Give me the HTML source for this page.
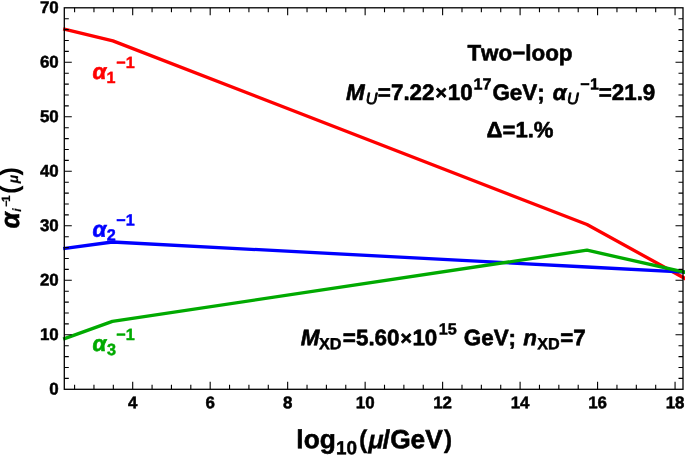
<!DOCTYPE html>
<html><head><meta charset="utf-8"><title>Two-loop gauge coupling running</title>
<style>html,body{margin:0;padding:0;background:#fff;}svg{display:block;}text{font-family:"Liberation Sans",Arial,Helvetica,sans-serif;stroke-linejoin:round;font-kerning:none;text-rendering:geometricPrecision;}.b{font-weight:bold;}.i{font-style:italic;}.bi{font-weight:bold;font-style:italic;}</style>
</head><body>
<svg width="685" height="455" viewBox="0 0 685 455">
<rect x="0" y="0" width="685" height="455" fill="#ffffff"/>
<polyline points="63.20,28.95 112.90,40.90 587.00,224.50 686.50,279.33" fill="none" stroke="#ff0000" stroke-width="3.3" stroke-linejoin="round" stroke-linecap="butt"/>
<polyline points="63.20,248.60 112.40,242.00 587.00,267.00 686.50,272.18" fill="none" stroke="#0000ff" stroke-width="3.3" stroke-linejoin="round" stroke-linecap="butt"/>
<polyline points="63.20,339.10 112.40,321.40 587.00,250.20 686.50,272.59" fill="none" stroke="#00aa00" stroke-width="3.3" stroke-linejoin="round" stroke-linecap="butt"/>
<path d="M74.59 389.30v-4.50M74.59 7.80v4.50M93.96 389.30v-4.50M93.96 7.80v4.50M113.33 389.30v-4.50M113.33 7.80v4.50M132.70 389.30v-7.50M132.70 7.80v7.50M152.07 389.30v-4.50M152.07 7.80v4.50M171.44 389.30v-4.50M171.44 7.80v4.50M190.81 389.30v-4.50M190.81 7.80v4.50M210.18 389.30v-7.50M210.18 7.80v7.50M229.55 389.30v-4.50M229.55 7.80v4.50M248.92 389.30v-4.50M248.92 7.80v4.50M268.29 389.30v-4.50M268.29 7.80v4.50M287.66 389.30v-7.50M287.66 7.80v7.50M307.03 389.30v-4.50M307.03 7.80v4.50M326.40 389.30v-4.50M326.40 7.80v4.50M345.77 389.30v-4.50M345.77 7.80v4.50M365.14 389.30v-7.50M365.14 7.80v7.50M384.51 389.30v-4.50M384.51 7.80v4.50M403.88 389.30v-4.50M403.88 7.80v4.50M423.25 389.30v-4.50M423.25 7.80v4.50M442.62 389.30v-7.50M442.62 7.80v7.50M461.99 389.30v-4.50M461.99 7.80v4.50M481.36 389.30v-4.50M481.36 7.80v4.50M500.73 389.30v-4.50M500.73 7.80v4.50M520.10 389.30v-7.50M520.10 7.80v7.50M539.47 389.30v-4.50M539.47 7.80v4.50M558.84 389.30v-4.50M558.84 7.80v4.50M578.21 389.30v-4.50M578.21 7.80v4.50M597.58 389.30v-7.50M597.58 7.80v7.50M616.95 389.30v-4.50M616.95 7.80v4.50M636.32 389.30v-4.50M636.32 7.80v4.50M655.69 389.30v-4.50M655.69 7.80v4.50M675.06 389.30v-7.50M675.06 7.80v7.50M64.30 378.40h4.50M683.00 378.40h-4.50M64.30 367.50h4.50M683.00 367.50h-4.50M64.30 356.60h4.50M683.00 356.60h-4.50M64.30 345.70h4.50M683.00 345.70h-4.50M64.30 334.80h7.50M683.00 334.80h-7.50M64.30 323.90h4.50M683.00 323.90h-4.50M64.30 313.00h4.50M683.00 313.00h-4.50M64.30 302.10h4.50M683.00 302.10h-4.50M64.30 291.20h4.50M683.00 291.20h-4.50M64.30 280.30h7.50M683.00 280.30h-7.50M64.30 269.40h4.50M683.00 269.40h-4.50M64.30 258.50h4.50M683.00 258.50h-4.50M64.30 247.60h4.50M683.00 247.60h-4.50M64.30 236.70h4.50M683.00 236.70h-4.50M64.30 225.80h7.50M683.00 225.80h-7.50M64.30 214.90h4.50M683.00 214.90h-4.50M64.30 204.00h4.50M683.00 204.00h-4.50M64.30 193.10h4.50M683.00 193.10h-4.50M64.30 182.20h4.50M683.00 182.20h-4.50M64.30 171.30h7.50M683.00 171.30h-7.50M64.30 160.40h4.50M683.00 160.40h-4.50M64.30 149.50h4.50M683.00 149.50h-4.50M64.30 138.60h4.50M683.00 138.60h-4.50M64.30 127.70h4.50M683.00 127.70h-4.50M64.30 116.80h7.50M683.00 116.80h-7.50M64.30 105.90h4.50M683.00 105.90h-4.50M64.30 95.00h4.50M683.00 95.00h-4.50M64.30 84.10h4.50M683.00 84.10h-4.50M64.30 73.20h4.50M683.00 73.20h-4.50M64.30 62.30h7.50M683.00 62.30h-7.50M64.30 51.40h4.50M683.00 51.40h-4.50M64.30 40.50h4.50M683.00 40.50h-4.50M64.30 29.60h4.50M683.00 29.60h-4.50M64.30 18.70h4.50M683.00 18.70h-4.50" fill="none" stroke="#000" stroke-width="1.1"/>
<rect x="64.30" y="7.80" width="618.70" height="381.50" fill="none" stroke="#000" stroke-width="1.30"/>
<text class="b" x="49.30" y="394.40" transform="rotate(0.03 49.30 394.40)" font-size="16.90" fill="#000" stroke="#000" stroke-width="0.50">0</text>
<text class="b" x="39.90" y="339.90" transform="rotate(0.03 39.90 339.90)" font-size="16.90" fill="#000" stroke="#000" stroke-width="0.50">10</text>
<text class="b" x="39.90" y="285.40" transform="rotate(0.03 39.90 285.40)" font-size="16.90" fill="#000" stroke="#000" stroke-width="0.50">20</text>
<text class="b" x="39.90" y="230.90" transform="rotate(0.03 39.90 230.90)" font-size="16.90" fill="#000" stroke="#000" stroke-width="0.50">30</text>
<text class="b" x="39.90" y="176.40" transform="rotate(0.03 39.90 176.40)" font-size="16.90" fill="#000" stroke="#000" stroke-width="0.50">40</text>
<text class="b" x="39.90" y="121.90" transform="rotate(0.03 39.90 121.90)" font-size="16.90" fill="#000" stroke="#000" stroke-width="0.50">50</text>
<text class="b" x="39.90" y="67.40" transform="rotate(0.03 39.90 67.40)" font-size="16.90" fill="#000" stroke="#000" stroke-width="0.50">60</text>
<text class="b" x="39.90" y="12.90" transform="rotate(0.03 39.90 12.90)" font-size="16.90" fill="#000" stroke="#000" stroke-width="0.50">70</text>
<text class="b" x="128.00" y="408.30" transform="rotate(0.03 128.00 408.30)" font-size="16.90" fill="#000" stroke="#000" stroke-width="0.50">4</text>
<text class="b" x="205.48" y="408.30" transform="rotate(0.03 205.48 408.30)" font-size="16.90" fill="#000" stroke="#000" stroke-width="0.50">6</text>
<text class="b" x="282.96" y="408.30" transform="rotate(0.03 282.96 408.30)" font-size="16.90" fill="#000" stroke="#000" stroke-width="0.50">8</text>
<text class="b" x="355.74" y="408.30" transform="rotate(0.03 355.74 408.30)" font-size="16.90" fill="#000" stroke="#000" stroke-width="0.50">10</text>
<text class="b" x="433.22" y="408.30" transform="rotate(0.03 433.22 408.30)" font-size="16.90" fill="#000" stroke="#000" stroke-width="0.50">12</text>
<text class="b" x="510.70" y="408.30" transform="rotate(0.03 510.70 408.30)" font-size="16.90" fill="#000" stroke="#000" stroke-width="0.50">14</text>
<text class="b" x="588.18" y="408.30" transform="rotate(0.03 588.18 408.30)" font-size="16.90" fill="#000" stroke="#000" stroke-width="0.50">16</text>
<text class="b" x="665.66" y="408.30" transform="rotate(0.03 665.66 408.30)" font-size="16.90" fill="#000" stroke="#000" stroke-width="0.50">18</text>
<text class="b" x="296.36" y="448.20" transform="rotate(0.03 296.36 448.20)" font-size="26.30" fill="#000" stroke="#000" stroke-width="0.60">log</text>
<text class="b" x="336.03" y="454.20" transform="rotate(0.03 336.03 454.20)" font-size="18.90" fill="#000" stroke="#000" stroke-width="0.45">10</text>
<text class="b" x="359.09" y="447.80" transform="rotate(0.03 359.09 447.80)" font-size="25.20" fill="#000" stroke="#000" stroke-width="0.30">(</text>
<text class="bi" x="368.14" y="448.20" transform="rotate(0.03 368.14 448.20)" font-size="25.50" fill="#000" stroke="#000" stroke-width="0.30">μ</text>
<text class="b" x="382.84" y="448.20" transform="rotate(0.03 382.84 448.20)" font-size="26.30" fill="#000" stroke="#000" stroke-width="0.60">/GeV</text>
<text class="b" x="443.73" y="447.80" transform="rotate(0.03 443.73 447.80)" font-size="25.20" fill="#000" stroke="#000" stroke-width="0.30">)</text>
<g transform="translate(18.6,228) rotate(-90.03)">
<text class="bi" x="-0.43" y="0.00" transform="rotate(0.03 -0.43 0.00)" font-size="26.30" fill="#000" stroke="#000" stroke-width="0.60">α</text>
<text class="bi" x="16.29" y="2.90" transform="rotate(0.03 16.29 2.90)" font-size="12.00" fill="#000" stroke="#000" stroke-width="0.20">i</text>
<text class="b" x="21.34" y="-8.50" transform="rotate(0.03 21.34 -8.50)" font-size="11.00" fill="#000" stroke="#000" stroke-width="0.20">−</text>
<text class="b" x="26.14" y="-8.50" transform="rotate(0.03 26.14 -8.50)" font-size="12.00" fill="#000" stroke="#000" stroke-width="0.20">1</text>
<text class="b" x="34.25" y="-0.20" transform="rotate(0.03 34.25 -0.20)" font-size="25.00" fill="#000">(</text>
<text class="bi" x="44.72" y="-0.30" transform="rotate(0.03 44.72 -0.30)" font-size="14.00" fill="#000" stroke="#000" stroke-width="0.20">μ</text>
<text class="b" x="52.48" y="-0.20" transform="rotate(0.03 52.48 -0.20)" font-size="25.00" fill="#000">)</text>
</g>
<text class="bi" x="92.38" y="79.00" transform="rotate(0.03 92.38 79.00)" font-size="22.40" fill="#ff0000" stroke="#ff0000" stroke-width="0.60">α</text>
<text class="b" x="106.40" y="82.90" transform="rotate(0.03 106.40 82.90)" font-size="16.20" fill="#ff0000" stroke="#ff0000" stroke-width="0.45">1</text>
<text class="b" x="116.15" y="67.90" transform="rotate(0.03 116.15 67.90)" font-size="16.20" fill="#ff0000" stroke="#ff0000" stroke-width="0.45">−</text>
<text class="b" x="125.70" y="67.90" transform="rotate(0.03 125.70 67.90)" font-size="16.20" fill="#ff0000" stroke="#ff0000" stroke-width="0.45">1</text>
<text class="bi" x="92.38" y="236.70" transform="rotate(0.03 92.38 236.70)" font-size="22.40" fill="#0000ff" stroke="#0000ff" stroke-width="0.60">α</text>
<text class="b" x="106.86" y="240.60" transform="rotate(0.03 106.86 240.60)" font-size="16.20" fill="#0000ff" stroke="#0000ff" stroke-width="0.45">2</text>
<text class="b" x="116.15" y="225.60" transform="rotate(0.03 116.15 225.60)" font-size="16.20" fill="#0000ff" stroke="#0000ff" stroke-width="0.45">−</text>
<text class="b" x="125.70" y="225.60" transform="rotate(0.03 125.70 225.60)" font-size="16.20" fill="#0000ff" stroke="#0000ff" stroke-width="0.45">1</text>
<text class="bi" x="92.38" y="351.00" transform="rotate(0.03 92.38 351.00)" font-size="22.40" fill="#00aa00" stroke="#00aa00" stroke-width="0.60">α</text>
<text class="b" x="107.05" y="354.90" transform="rotate(0.03 107.05 354.90)" font-size="16.20" fill="#00aa00" stroke="#00aa00" stroke-width="0.45">3</text>
<text class="b" x="116.15" y="339.90" transform="rotate(0.03 116.15 339.90)" font-size="16.20" fill="#00aa00" stroke="#00aa00" stroke-width="0.45">−</text>
<text class="b" x="125.70" y="339.90" transform="rotate(0.03 125.70 339.90)" font-size="16.20" fill="#00aa00" stroke="#00aa00" stroke-width="0.45">1</text>
<text class="b" x="467.45" y="60.40" transform="rotate(0.03 467.45 60.40)" font-size="22.40" fill="#000" stroke="#000" stroke-width="0.60">Two−loop</text>
<text class="bi" x="346.01" y="99.90" transform="rotate(0.03 346.01 99.90)" font-size="22.40" fill="#000" stroke="#000" stroke-width="0.60">M</text>
<text class="i" x="365.71" y="104.00" transform="rotate(0.03 365.71 104.00)" font-size="16.20" fill="#000" stroke="#000" stroke-width="0.85">U</text>
<text class="b" x="377.87" y="99.90" transform="rotate(0.03 377.87 99.90)" font-size="22.40" fill="#000" stroke="#000" stroke-width="0.60">=7.22</text>
<text class="b" x="435.63" y="99.30" transform="rotate(0.03 435.63 99.30)" font-size="19.50" fill="#000" stroke="#000" stroke-width="0.70">×</text>
<text class="b" x="447.69" y="99.90" transform="rotate(0.03 447.69 99.90)" font-size="22.40" fill="#000" stroke="#000" stroke-width="0.60">10</text>
<text class="b" x="473.50" y="89.50" transform="rotate(0.03 473.50 89.50)" font-size="16.20" fill="#000" stroke="#000" stroke-width="0.45">17</text>
<text class="b" x="492.38" y="99.90" transform="rotate(0.03 492.38 99.90)" font-size="22.40" fill="#000" stroke="#000" stroke-width="0.60">GeV;</text>
<text class="bi" x="552.78" y="99.90" transform="rotate(0.03 552.78 99.90)" font-size="22.40" fill="#000" stroke="#000" stroke-width="0.60">α</text>
<text class="i" x="566.91" y="104.00" transform="rotate(0.03 566.91 104.00)" font-size="16.20" fill="#000" stroke="#000" stroke-width="0.85">U</text>
<text class="b" x="580.15" y="89.50" transform="rotate(0.03 580.15 89.50)" font-size="16.20" fill="#000" stroke="#000" stroke-width="0.45">−</text>
<text class="b" x="590.00" y="89.50" transform="rotate(0.03 590.00 89.50)" font-size="16.20" fill="#000" stroke="#000" stroke-width="0.45">1</text>
<text class="b" x="598.67" y="99.90" transform="rotate(0.03 598.67 99.90)" font-size="22.40" fill="#000" stroke="#000" stroke-width="0.60">=21.9</text>
<text class="b" x="486.60" y="137.30" transform="rotate(0.03 486.60 137.30)" font-size="22.10" fill="#000" stroke="#000" stroke-width="0.60">Δ=1.%</text>
<text class="bi" x="300.71" y="345.30" transform="rotate(0.03 300.71 345.30)" font-size="22.40" fill="#000" stroke="#000" stroke-width="0.60">M</text>
<text class="b" x="318.98" y="349.20" transform="rotate(0.03 318.98 349.20)" font-size="16.20" fill="#000" stroke="#000" stroke-width="0.45">XD</text>
<text class="b" x="342.87" y="345.30" transform="rotate(0.03 342.87 345.30)" font-size="22.40" fill="#000" stroke="#000" stroke-width="0.60">=5.60</text>
<text class="b" x="400.53" y="344.70" transform="rotate(0.03 400.53 344.70)" font-size="19.50" fill="#000" stroke="#000" stroke-width="0.70">×</text>
<text class="b" x="412.39" y="345.30" transform="rotate(0.03 412.39 345.30)" font-size="22.40" fill="#000" stroke="#000" stroke-width="0.60">10</text>
<text class="b" x="438.70" y="334.50" transform="rotate(0.03 438.70 334.50)" font-size="16.20" fill="#000" stroke="#000" stroke-width="0.45">15</text>
<text class="b" x="463.78" y="345.30" transform="rotate(0.03 463.78 345.30)" font-size="22.40" fill="#000" stroke="#000" stroke-width="0.60">GeV;</text>
<text class="bi" x="523.32" y="345.30" transform="rotate(0.03 523.32 345.30)" font-size="22.40" fill="#000" stroke="#000" stroke-width="0.60">n</text>
<text class="b" x="537.28" y="349.20" transform="rotate(0.03 537.28 349.20)" font-size="16.20" fill="#000" stroke="#000" stroke-width="0.45">XD</text>
<text class="b" x="560.17" y="345.30" transform="rotate(0.03 560.17 345.30)" font-size="22.40" fill="#000" stroke="#000" stroke-width="0.60">=7</text>
</svg>
</body></html>
